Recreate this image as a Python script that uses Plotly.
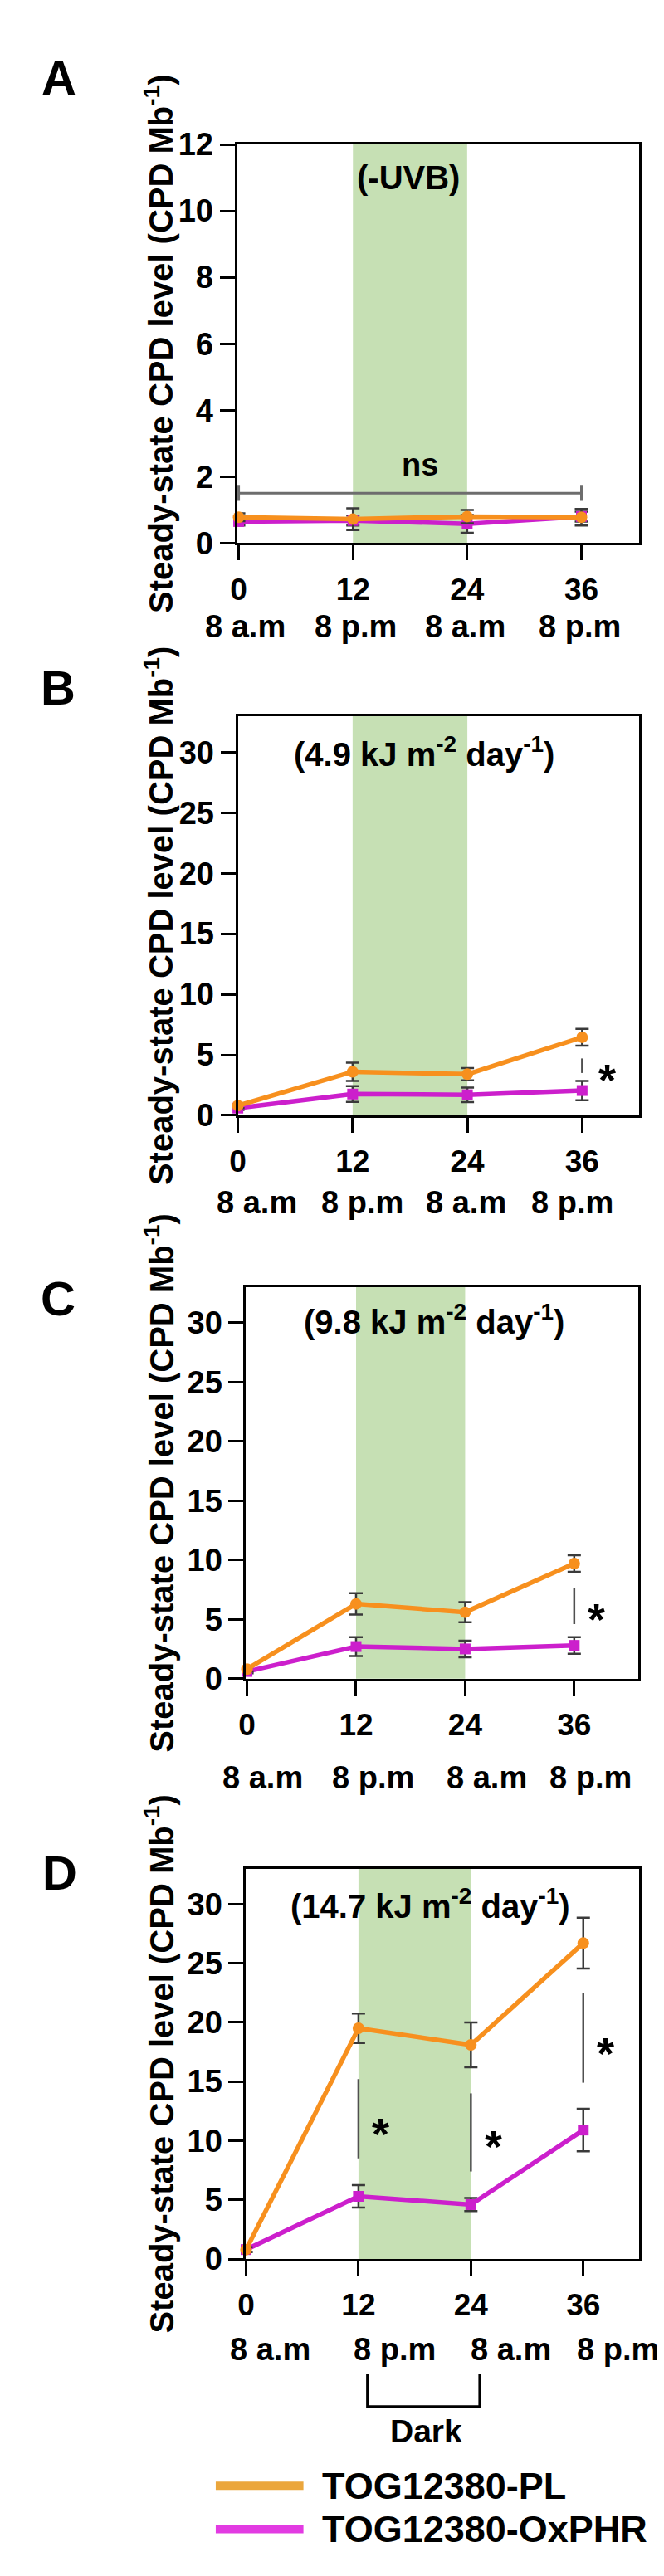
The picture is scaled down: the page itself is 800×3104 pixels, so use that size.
import plotly.graph_objects as go

W, H = 800, 3104
FONT = "Liberation Sans, Arial, sans-serif"

# ---------------- data ----------------
hours = [0, 12, 24, 36]
hour_ticks = ["0", "12", "24", "36"]
clock_labels = ["8 a.m", "8 p.m", "8 a.m", "8 p.m"]
series_names = ["TOG12380-PL", "TOG12380-OxPHR"]

pl_A = [0.78, 0.72, 0.80, 0.78]
pl_A_err = [0.12, 0.33, 0.20, 0.25]
ox_A = [0.65, 0.68, 0.58, 0.80]
ox_A_err = [0.12, 0.15, 0.27, 0.15]

pl_B = [0.80, 3.60, 3.40, 6.45]
pl_B_err = [0.20, 0.75, 0.50, 0.70]
ox_B = [0.60, 1.76, 1.70, 2.05]
ox_B_err = [0.15, 0.65, 0.60, 0.80]

pl_C = [0.80, 6.30, 5.60, 9.70]
pl_C_err = [0.20, 0.90, 0.85, 0.70]
ox_C = [0.60, 2.70, 2.50, 2.80]
ox_C_err = [0.15, 0.80, 0.70, 0.70]

pl_D = [0.80, 19.50, 18.10, 26.70]
pl_D_err = [0.20, 1.25, 1.90, 2.15]
ox_D = [0.80, 5.30, 4.60, 10.90]
ox_D_err = [0.20, 0.95, 0.55, 1.80]

panel_letters = ["A", "B", "C", "D"]
panel_titles = ["(-UVB)",
                "(4.9 kJ m<sup>-2</sup> day<sup>-1</sup>)",
                "(9.8 kJ m<sup>-2</sup> day<sup>-1</sup>)",
                "(14.7 kJ m<sup>-2</sup> day<sup>-1</sup>)"]
y_max = [12, 33, 33, 33]
y_dtick = [2, 5, 5, 5]
dark_start, dark_end = 12, 24

# significance marks: (x, y_low, y_high)
sig_lines = [[], [(36, 3.5, 4.7)], [(36, 4.6, 7.6)],
             [(12, 8.5, 15.2), (24, 7.4, 14.0), (36, 14.9, 22.5)]]
sig_stars = [[], [(38.6, 3.9)], [(38.4, 6.0)],
             [(14.4, 11.6), (26.4, 10.5), (38.4, 18.4)]]

# ---------------- layout geometry (pixels) ----------------
panels = [
    dict(x0=271, x1=762, top=147, bot=634, xr=[-0.17, 42.1], clock_y=736,
         clock_x=[0.7, 12.3, 23.8, 35.8], title_xy=(17.8, 11.0), letter_xy=(54, 65)),
    dict(x0=272, x1=762, top=845, bot=1333, xr=[0, 42.0], clock_y=1439,
         clock_x=[2.0, 13.0, 23.9, 35.0], title_xy=(19.5, 30.0), letter_xy=(53, 810)),
    dict(x0=282, x1=760, top=1543, bot=2021, xr=[-0.1, 43.0], clock_y=2142,
         clock_x=[1.7, 13.9, 26.4, 37.8], title_xy=(20.6, 30.3), letter_xy=(53, 1557)),
    dict(x0=282, x1=762, top=2253, bot=2730, xr=[0, 42.0], clock_y=2840,
         clock_x=[2.6, 15.9, 28.3, 39.7], title_xy=(19.7, 30.0), letter_xy=(55, 2258)),
]

pl_vals = [pl_A, pl_B, pl_C, pl_D]
pl_errs = [pl_A_err, pl_B_err, pl_C_err, pl_D_err]
ox_vals = [ox_A, ox_B, ox_C, ox_D]
ox_errs = [ox_A_err, ox_B_err, ox_C_err, ox_D_err]

ORANGE = "#F7901E"
MAGENTA = "#CC1FCC"
ERR = "#3a3a3a"
GREEN = "#C6E0B4"


def py(px):
    return 1 - px / H


fig = go.Figure()
shapes = []
annotations = []

for i, p in enumerate(panels):
    n = "" if i == 0 else str(i + 1)
    xa, ya = "x" + n, "y" + n
    xkey, ykey = "xaxis" + n, "yaxis" + n

    fig.add_trace(go.Scatter(
        x=hours, y=ox_vals[i], xaxis=xa, yaxis=ya, mode="lines+markers",
        name=series_names[1], showlegend=False, cliponaxis=False,
        line=dict(color=MAGENTA, width=5.5),
        marker=dict(symbol="square", size=13, color=MAGENTA),
        error_y=dict(type="data", array=ox_errs[i], color=ERR, thickness=2.5, width=8)))
    fig.add_trace(go.Scatter(
        x=hours, y=pl_vals[i], xaxis=xa, yaxis=ya, mode="lines+markers",
        name=series_names[0], showlegend=False, cliponaxis=False,
        line=dict(color=ORANGE, width=5.5),
        marker=dict(symbol="circle", size=14, color=ORANGE),
        error_y=dict(type="data", array=pl_errs[i], color=ERR, thickness=2.5, width=8)))

    fig.layout[xkey] = dict(
        domain=[p["x0"] / W, p["x1"] / W], range=p["xr"], anchor=ya,
        tickmode="array", tickvals=hours, ticktext=hour_ticks,
        ticks="outside", ticklen=18, tickwidth=3, tickcolor="black",
        showline=True, linewidth=3, linecolor="black", mirror=True,
        showgrid=False, zeroline=False, ticklabelstandoff=3,
        tickfont=dict(family=FONT, size=37, color="black", weight="bold"))
    fig.layout[ykey] = dict(
        domain=[py(p["bot"]), py(p["top"])], range=[0, y_max[i]], anchor=xa,
        dtick=y_dtick[i], tick0=0, ticks="outside", ticklen=18, tickwidth=3,
        tickcolor="black", showline=True, linewidth=3, linecolor="black",
        mirror=True, showgrid=False, zeroline=False,
        tickfont=dict(family=FONT, size=38, color="black", weight="bold"))

    # dark period band
    shapes.append(dict(type="rect", xref=xa, yref=ya + " domain", x0=dark_start,
                       x1=dark_end, y0=0, y1=1, fillcolor=GREEN, line_width=0,
                       layer="below"))

    # in-plot condition title
    annotations.append(dict(xref=xa, yref=ya, x=p["title_xy"][0], y=p["title_xy"][1],
                            text=panel_titles[i], showarrow=False,
                            font=dict(family=FONT, size=40, color="black", weight="bold")))
    # panel letter
    annotations.append(dict(xref="paper", yref="paper", x=p["letter_xy"][0] / W,
                            y=py(p["letter_xy"][1]), text=panel_letters[i],
                            showarrow=False, xanchor="center", yanchor="middle",
                            font=dict(family=FONT, size=58, color="black", weight="bold")))
    # y-axis title
    annotations.append(dict(xref="paper", yref="paper", x=176 / W,
                            y=py((p["top"] + p["bot"]) / 2),
                            text="Steady-state CPD level (CPD Mb<sup>-1</sup>)",
                            textangle=-90, showarrow=False, xanchor="center",
                            yanchor="middle",
                            font=dict(family=FONT, size=40, color="black", weight="bold")))
    # clock labels
    for cx, lab in zip(p["clock_x"], clock_labels):
        annotations.append(dict(xref=xa, yref="paper", x=cx, y=py(p["clock_y"]),
                                text=lab, showarrow=False, xanchor="center",
                                yanchor="middle",
                                font=dict(family=FONT, size=38, color="black",
                                          weight="bold")))
    # significance
    for (sx, s0, s1) in sig_lines[i]:
        shapes.append(dict(type="line", xref=xa, yref=ya, x0=sx, x1=sx, y0=s0, y1=s1,
                           line=dict(color="#505050", width=2.5)))
    for (sx, sy) in sig_stars[i]:
        annotations.append(dict(xref=xa, yref=ya, x=sx, y=sy, text="*",
                                showarrow=False, yshift=-14,
                                font=dict(family=FONT, size=54, color="black",
                                          weight="bold")))

# panel A: ns bracket
shapes.append(dict(type="line", xref="x", yref="y", x0=0, x1=36, y0=1.5, y1=1.5,
                   line=dict(color="#6d6d6d", width=3)))
for bx in (0, 36):
    shapes.append(dict(type="line", xref="x", yref="y", x0=bx, x1=bx, y0=1.27, y1=1.73,
                       line=dict(color="#6d6d6d", width=3)))
annotations.append(dict(xref="x", yref="y", x=19.0, y=2.35, text="ns", showarrow=False,
                        font=dict(family=FONT, size=38, color="black", weight="bold")))

# Dark bracket under panel D
shapes.append(dict(type="path", xref="paper", yref="paper",
                   path=f"M {430/W},{py(2870)} L {430/W},{py(2910)} L {567/W},{py(2910)} L {567/W},{py(2870)}",
                   line=dict(color="black", width=3)))
annotations.append(dict(xref="paper", yref="paper", x=502 / W, y=py(2940), text="Dark",
                        showarrow=False, xanchor="center", yanchor="middle",
                        font=dict(family=FONT, size=39, color="black", weight="bold")))

# custom legend
for (ly, col, name) in [(3007, "#EBA63C", series_names[0]), (3060, "#E23BE2", series_names[1])]:
    shapes.append(dict(type="line", xref="paper", yref="paper", x0=245 / W, x1=352 / W,
                       y0=py(ly), y1=py(ly), line=dict(color=col, width=10)))
    annotations.append(dict(xref="paper", yref="paper", x=373 / W, y=py(ly), text=name,
                            showarrow=False, xanchor="left", yanchor="middle",
                            font=dict(family=FONT, size=45, color="black", weight="bold")))

fig.update_layout(width=W, height=H, margin=dict(l=0, r=0, t=0, b=0),
                  paper_bgcolor="white", plot_bgcolor="white", showlegend=False,
                  shapes=shapes, annotations=annotations)

fig.write_html("out.html")
